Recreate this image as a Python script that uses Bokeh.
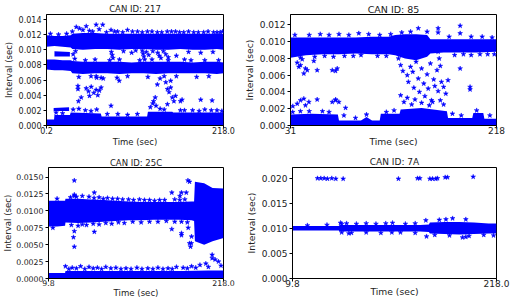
from bokeh.plotting import figure
from bokeh.layouts import column, row
from bokeh.models import FixedTicker, PrintfTickFormatter
from bokeh.embed import file_html
from bokeh.resources import INLINE

BLUE = "#0000ff"
TXT = "#222222"

# ================= CAN ID: 217 =================
id217_title = "CAN ID: 217"
id217_xticks = [0.2, 218.0]
id217_yticks = [0.000, 0.002, 0.004, 0.006, 0.008, 0.010, 0.012, 0.014]
id217_band_t = [0.2, 10, 20, 30, 32, 45, 60, 75, 90, 105, 120, 135, 150, 165, 180, 195, 210, 218]
id217_top_hi = [0.0119, 0.0118, 0.0118, 0.0119, 0.0121, 0.0122, 0.0122, 0.0121, 0.0121, 0.0121, 0.0121, 0.0121, 0.0121, 0.0121, 0.0121, 0.0121, 0.0121, 0.0121]
id217_top_lo = [0.0104, 0.0105, 0.0104, 0.0103, 0.0101, 0.0100, 0.0101, 0.0101, 0.0100, 0.0101, 0.0101, 0.0100, 0.0100, 0.0101, 0.0100, 0.0100, 0.0101, 0.0100]
id217_mid_hi = [0.0087, 0.0087, 0.0086, 0.0086, 0.0085, 0.0084, 0.0084, 0.0084, 0.0084, 0.0083, 0.0084, 0.0084, 0.0084, 0.0084, 0.0083, 0.0084, 0.0084, 0.0083]
id217_mid_lo = [0.0074, 0.0073, 0.0073, 0.0072, 0.0069, 0.0068, 0.0069, 0.0069, 0.0068, 0.0069, 0.0069, 0.0068, 0.0069, 0.0069, 0.0069, 0.0069, 0.0068, 0.0069]
id217_low_t = [0.2, 9.5, 10, 29, 30, 67, 68, 124, 125, 155, 156, 218]
id217_low_hi = [0.0008, 0.0008, 0.0014, 0.0014, 0.0017, 0.0016, 0.0012, 0.0012, 0.0018, 0.0018, 0.0017, 0.0017]
id217_low_lo = [0, 0, 0, 0, 0, 0, 0, 0, 0, 0, 0, 0]
id217_c2_t = [9, 28]
id217_c2_lo = [0.0019, 0.0019]
id217_c2_hi = [0.0023, 0.0024]
id217_c9_t = [10, 29]
id217_c9_lo = [0.0091, 0.0091]
id217_c9_hi = [0.0098, 0.0097]
id217_pts_t = [
    36.8, 40.9, 45, 49.1, 53, 61.3, 65, 69.4, 79.6, 87.7, 99.9, 112.2, 124.4, 136.6, 148.8, 159.0, 169.1, 181.4, 193.6, 205.8, 213.9, 32, 5, 15, 25,
    57, 74, 84, 94, 106, 118, 130, 142, 154, 164, 175, 187, 199, 210, 217,
    80, 81, 82, 118, 119, 120, 121, 123, 126, 131, 137, 139, 141, 144, 147, 150, 95, 105, 160, 175, 190, 205, 33, 36, 110,
    40, 55, 62, 70, 87, 100, 125, 140, 160, 185, 200, 35, 60, 90, 130, 170, 48, 78, 115, 150, 178, 195, 212,
    38.9, 38.9, 39.5, 42.9, 49.1, 51.9, 55.2, 58.4, 61.3, 63.3, 65.3, 67.4, 53.1, 61.3, 67.4, 79.6, 89.7, 132, 134, 136.6, 145, 147, 149, 151, 153, 155, 157, 159, 149, 153, 165, 167, 190, 204,
    12, 20, 33, 40, 48, 55, 62, 75, 88, 100, 112, 128, 131, 135, 140, 145, 165, 180, 195, 210, 170, 188, 203, 216]
id217_pts_v = [
    0.0130, 0.0128, 0.0126, 0.0131, 0.0125, 0.0133, 0.0127, 0.0133, 0.0126, 0.0124, 0.0126, 0.0124, 0.0124, 0.0123, 0.0124, 0.0124, 0.0123, 0.0123, 0.0123, 0.0123, 0.0123, 0.0124, 0.0121, 0.0120, 0.0121,
    0.0124, 0.0123, 0.0124, 0.0123, 0.0124, 0.0123, 0.0124, 0.0123, 0.0124, 0.0123, 0.0124, 0.0123, 0.0124, 0.0123, 0.0124,
    0.0097, 0.0093, 0.0089, 0.0099, 0.0095, 0.0091, 0.0087, 0.0097, 0.0093, 0.0098, 0.0096, 0.0092, 0.0089, 0.0098, 0.0094, 0.0090, 0.0098, 0.0096, 0.0092, 0.0097, 0.0096, 0.0097, 0.0094, 0.0098, 0.0099,
    0.0064, 0.0065, 0.0063, 0.0062, 0.0063, 0.0065, 0.0064, 0.0062, 0.0065, 0.0064, 0.0065, 0.0088, 0.0087, 0.0087, 0.0087, 0.0087, 0.0086, 0.0086, 0.0086, 0.0086, 0.0086, 0.0086, 0.0086,
    0.0052, 0.0048, 0.0032, 0.0037, 0.0049, 0.0045, 0.0051, 0.0043, 0.0047, 0.0040, 0.0046, 0.0050, 0.0039, 0.0065, 0.0063, 0.0026, 0.0059, 0.0032, 0.0037, 0.0054, 0.0065, 0.0057, 0.0048, 0.0044, 0.0050, 0.0037, 0.0032, 0.0039, 0.0028, 0.0059, 0.0032, 0.0034, 0.0034, 0.0033,
    0.0017, 0.0016, 0.0021, 0.0022, 0.0020, 0.0019, 0.0021, 0.0015, 0.0015, 0.0014, 0.0015, 0.0024, 0.0029, 0.0026, 0.0022, 0.0021, 0.0020, 0.0020, 0.0021, 0.0020, 0.0020, 0.0019, 0.0020, 0.0019]

# ================= CAN ID: 85 =================
id85_title = "CAN ID: 85"
id85_xticks = [31, 218]
id85_yticks = [0.000, 0.002, 0.004, 0.006, 0.008, 0.010, 0.012]
id85_top_t = [31, 45, 60, 75, 90, 105, 120, 126, 135, 145, 155, 158, 170, 185, 200, 218]
id85_top_hi = [0.0105, 0.0105, 0.0105, 0.0105, 0.0105, 0.0106, 0.0106, 0.0108, 0.0109, 0.0109, 0.0108, 0.0103, 0.0103, 0.0103, 0.0103, 0.0103]
id85_top_lo = [0.0081, 0.0084, 0.0085, 0.0085, 0.0086, 0.0085, 0.0085, 0.0084, 0.0080, 0.0078, 0.0082, 0.0086, 0.0087, 0.0087, 0.0087, 0.0088]
id85_low_t = [31, 50, 74, 75, 95, 100, 105, 112, 113, 130, 131, 150, 173, 174, 196, 197, 206, 207, 218]
id85_low_hi = [0.0013, 0.0014, 0.0013, 0.0006, 0.0006, 0.0010, 0.0006, 0.0006, 0.0014, 0.0014, 0.0019, 0.0021, 0.0017, 0.0009, 0.0009, 0.0015, 0.0015, 0.0008, 0.0008]
id85_low_lo = [0] * 19
id85_pts_t = [
    37.1, 38.6, 40.1, 44.6, 46.2, 41.6, 52.2, 55.2, 68.9, 71.9, 73.4, 43.1,
    33.1, 37.1, 40.1, 43.1, 44.6, 47.7, 55.2, 68.9, 71.9, 74.9, 79.5, 81, 72,
    129, 131, 133, 135, 137, 138, 140, 142, 143, 145, 147, 148, 150, 152, 153, 155, 156, 158, 159, 161, 162, 164, 165, 165, 165, 166, 167, 168, 170, 172, 174,
    131, 134, 137, 141, 144, 150, 157, 160, 167, 170, 185, 194, 194,
    147, 165, 165, 185, 185, 35, 48, 58, 66, 75, 84, 93, 102, 112, 122, 132, 140, 155, 175, 195, 205, 214,
    40, 53, 62, 70, 80, 88, 95, 110, 118, 180, 188, 195, 203, 210, 216,
    178, 186, 200, 212, 125, 118, 60, 40, 90, 33, 48, 66, 100]
id85_pts_v = [
    0.0075, 0.0070, 0.0072, 0.0068, 0.0066, 0.0079, 0.0077, 0.0066, 0.0066, 0.0065, 0.0068, 0.0062,
    0.0023, 0.0026, 0.0030, 0.0032, 0.0024, 0.0028, 0.0031, 0.0028, 0.0030, 0.0028, 0.0012, 0.0021, 0.0031,
    0.0080, 0.0072, 0.0065, 0.0086, 0.0060, 0.0052, 0.0070, 0.0064, 0.0045, 0.0076, 0.0056, 0.0040, 0.0068, 0.0050, 0.0035, 0.0061, 0.0044, 0.0074, 0.0030, 0.0055, 0.0047, 0.0066, 0.0041, 0.0095, 0.0088, 0.0080, 0.0071, 0.0052, 0.0046, 0.0038, 0.0054,
    0.0036, 0.0028, 0.0033, 0.0025, 0.0031, 0.0027, 0.0024, 0.0028, 0.0030, 0.0025, 0.0068, 0.0046, 0.0043,
    0.0116, 0.0116, 0.0111, 0.0119, 0.0110, 0.0108, 0.0108, 0.0109, 0.0108, 0.0109, 0.0108, 0.0110, 0.0109, 0.0108, 0.0109, 0.0111, 0.0112, 0.0112, 0.0106, 0.0106, 0.0106, 0.0105,
    0.0081, 0.0082, 0.0083, 0.0082, 0.0083, 0.0083, 0.0084, 0.0083, 0.0083, 0.0084, 0.0085, 0.0084, 0.0085, 0.0085, 0.0085,
    0.0014, 0.0012, 0.0018, 0.0012, 0.0018, 0.0016, 0.0017, 0.0017, 0.0009, 0.0016, 0.0017, 0.0016, 0.0013]

# ================= CAN ID: 25C =================
id25c_title = "CAN ID: 25C"
id25c_xticks = [9.8, 218.0]
id25c_yticks = [0.0000, 0.0025, 0.0050, 0.0075, 0.0100, 0.0125, 0.0150]
id25c_top_t = [9.8, 20, 29.5, 30, 45, 60, 75, 90, 105, 120, 135, 150, 165, 180, 183, 184, 195, 205, 218]
id25c_top_hi = [0.0115, 0.0115, 0.0115, 0.0118, 0.0118, 0.0117, 0.0116, 0.0115, 0.0114, 0.0113, 0.0113, 0.0113, 0.0113, 0.0114, 0.0114, 0.0143, 0.0141, 0.0134, 0.0133]
id25c_top_lo = [0.0077, 0.0077, 0.0078, 0.0083, 0.0082, 0.0083, 0.0084, 0.0085, 0.0086, 0.0086, 0.0087, 0.0087, 0.0087, 0.0086, 0.0085, 0.0055, 0.0050, 0.0055, 0.0060]
id25c_low_t = [9.8, 29.5, 30, 100, 170, 200, 218]
id25c_low_hi = [0.0008, 0.0008, 0.0011, 0.0011, 0.0011, 0.0012, 0.0012]
id25c_low_lo = [0] * 7
id25c_pts_t = [
    40.5, 40.5, 40.5, 40.5, 40.5, 39.5, 64.3, 64.3, 156.5, 156.5, 166.1, 168, 168, 168, 173.7, 175.7, 177.6, 177.6, 178.8, 179.7, 180, 176,
    20, 36, 43, 50, 58, 70, 80, 92, 105, 118, 130, 142, 160, 172, 64, 75, 86, 98, 111, 124, 136, 148, 166,
    15, 37, 45, 55, 70, 85, 100, 120, 140, 160, 175, 50, 63, 78, 93, 110, 130, 150, 168,
    30, 38, 48, 58, 68, 78, 90, 102, 115, 128, 140, 152, 162, 170, 180, 190, 197, 204.5, 204.5, 208, 212, 200, 215,
    34, 43, 53, 63, 73, 84, 96, 108, 121, 134, 146, 157, 175, 185]
id25c_pts_v = [
    0.0145, 0.0124, 0.0122, 0.0070, 0.0047, 0.0061, 0.0127, 0.0069, 0.0127, 0.0073, 0.0122, 0.0127, 0.0067, 0.0064, 0.0127, 0.0145, 0.0143, 0.0052, 0.0047, 0.0052, 0.0062, 0.0075,
    0.0118, 0.0120, 0.0121, 0.0122, 0.0121, 0.0120, 0.0119, 0.0118, 0.0117, 0.0117, 0.0116, 0.0116, 0.0117, 0.0117, 0.0119, 0.0118, 0.0118, 0.0117, 0.0116, 0.0116, 0.0115, 0.0116, 0.0116,
    0.0075, 0.0079, 0.0078, 0.0079, 0.0080, 0.0081, 0.0082, 0.0083, 0.0084, 0.0084, 0.0083, 0.0080, 0.0081, 0.0082, 0.0083, 0.0084, 0.0084, 0.0085, 0.0084,
    0.0018, 0.0016, 0.0018, 0.0017, 0.0016, 0.0017, 0.0016, 0.0015, 0.0016, 0.0015, 0.0016, 0.0015, 0.0017, 0.0016, 0.0018, 0.0020, 0.0022, 0.0035, 0.0030, 0.0028, 0.0025, 0.0017, 0.0019,
    0.0014, 0.0015, 0.0014, 0.0015, 0.0014, 0.0015, 0.0014, 0.0014, 0.0014, 0.0014, 0.0014, 0.0014, 0.0015, 0.0016]

# ================= CAN ID: 7A =================
id7a_title = "CAN ID: 7A"
id7a_xticks = [9.8, 218.0]
id7a_yticks = [0.000, 0.005, 0.010, 0.015, 0.020]
id7a_band_t = [9.8, 30, 57, 58, 80, 100, 120, 140, 149, 150, 165, 180, 195, 210, 218]
id7a_band_hi = [0.0105, 0.0105, 0.0105, 0.0107, 0.0107, 0.0107, 0.0107, 0.0107, 0.0108, 0.0112, 0.0113, 0.0113, 0.0112, 0.0110, 0.0110]
id7a_band_lo = [0.0096, 0.0096, 0.0096, 0.0094, 0.0094, 0.0094, 0.0094, 0.0094, 0.0093, 0.0090, 0.0089, 0.0088, 0.0089, 0.0090, 0.0090]
id7a_pts_t = [
    35.3, 38.7, 42.1, 45.5, 49.9, 54, 61.5, 117.9, 137.4, 139.8, 150, 152.7, 156.1, 157.8, 165.6, 168, 194.2,
    145.9, 146.6, 111.2, 111.9, 58.8, 67.3, 183.3, 186.7, 159.6, 166.4, 173.2, 186.7,
    60, 65, 75, 85, 95, 105, 125, 135, 45, 25,
    60, 70, 85, 100, 120, 135, 155, 170, 190, 205, 215]
id7a_pts_v = [
    0.0200, 0.0200, 0.0200, 0.0199, 0.0200, 0.0199, 0.0199, 0.0199, 0.0200, 0.0200, 0.0199, 0.0199, 0.0199, 0.0200, 0.0202, 0.0202, 0.0203,
    0.0116, 0.0084, 0.0092, 0.0111, 0.0111, 0.0090, 0.0082, 0.0083, 0.0117, 0.0118, 0.0120, 0.0118,
    0.0109, 0.0110, 0.0109, 0.0110, 0.0109, 0.0110, 0.0109, 0.0110, 0.0107, 0.0106,
    0.0092, 0.0091, 0.0092, 0.0091, 0.0092, 0.0091, 0.0087, 0.0086, 0.0085, 0.0087, 0.0086]


def panel(title, xr, yr, xticks, xfmt, yticks, yfmt, bands, pts_t, pts_v, geom, fonts, stand):
    W, H, bl, br, bt, bb = geom
    tick_fs, lab_fs, title_fs = fonts
    title_so, xlab_so, ylab_so = stand
    p = figure(width=W, height=H, x_range=xr, y_range=yr, toolbar_location=None,
               output_backend="svg", min_border_left=bl, min_border_right=br,
               min_border_top=bt, min_border_bottom=bb, background_fill_color="white",
               border_fill_color="white", title=title)
    p.title.align = "center"
    p.title.text_font = "DejaVu Sans"
    p.title.text_font_style = "normal"
    p.title.text_font_size = title_fs
    p.title.text_color = TXT
    p.title.standoff = title_so
    p.title.offset = 0
    p.outline_line_color = "black"
    p.outline_line_width = 1
    p.grid.visible = False
    for (t, lo, hi) in bands:
        p.varea(x=t, y1=lo, y2=hi, fill_color=BLUE)
    p.scatter(pts_t, pts_v, marker="star", size=5, fill_color=BLUE, line_color=BLUE, line_width=0.5)

    p.xaxis.ticker = FixedTicker(ticks=xticks)
    p.xaxis.formatter = PrintfTickFormatter(format=xfmt)
    p.yaxis.ticker = FixedTicker(ticks=yticks)
    p.yaxis.formatter = PrintfTickFormatter(format=yfmt)
    p.xaxis.axis_label = "Time (sec)"
    p.yaxis.axis_label = "Interval (sec)"
    for ax in (p.xaxis, p.yaxis):
        ax.axis_line_color = "black"
        ax.major_tick_line_color = "black"
        ax.major_tick_out = 3
        ax.major_tick_in = 0
        ax.minor_tick_out = 0
        ax.minor_tick_in = 0
        ax.major_label_text_font = "DejaVu Sans"
        ax.major_label_text_font_size = tick_fs
        ax.major_label_text_color = TXT
        ax.axis_label_text_font = "DejaVu Sans"
        ax.axis_label_text_font_style = "normal"
        ax.axis_label_text_font_size = lab_fs
        ax.axis_label_text_color = TXT
    p.xaxis.major_label_standoff = -2
    p.yaxis.major_label_standoff = 2
    p.xaxis.axis_label_standoff = xlab_so
    p.yaxis.axis_label_standoff = ylab_so
    return p


p1 = panel(id217_title, (0.2, 218.0), (0, 0.01465), id217_xticks, "%.1f", id217_yticks, "%.3f",
           [(id217_band_t, id217_top_lo, id217_top_hi), (id217_band_t, id217_mid_lo, id217_mid_hi),
            (id217_low_t, id217_low_lo, id217_low_hi), (id217_c2_t, id217_c2_lo, id217_c2_hi),
            (id217_c9_t, id217_c9_lo, id217_c9_hi)],
           id217_pts_t, id217_pts_v, (240, 150, 45, 17, 12, 25),
           ("8px", "8.5px", "8.5px"), (2, 0, 2))

p2 = panel(id85_title, (31, 218), (0, 0.01325), id85_xticks, "%d", id85_yticks, "%.3f",
           [(id85_top_t, id85_top_lo, id85_top_hi), (id85_low_t, id85_low_lo, id85_low_hi)],
           id85_pts_t, id85_pts_v, (271, 150, 50, 15, 11, 22),
           ("9px", "9.2px", "9.5px"), (0, -1, 2))

p3 = panel(id25c_title, (9.8, 218.0), (0, 0.01642), id25c_xticks, "%.1f", id25c_yticks, "%.4f",
           [(id25c_top_t, id25c_top_lo, id25c_top_hi), (id25c_low_t, id25c_low_lo, id25c_low_hi)],
           id25c_pts_t, id25c_pts_v, (240, 151, 43, 17, 12, 23),
           ("7.8px", "8.6px", "8.5px"), (0, -1, 0))

p4 = panel(id7a_title, (9.8, 218.0), (0, 0.02216), id7a_xticks, "%.1f", id7a_yticks, "%.3f",
           [(id7a_band_t, id7a_band_lo, id7a_band_hi)],
           id7a_pts_t, id7a_pts_v, (271, 151, 52, 15, 17, 21),
           ("9px", "9.2px", "9px"), (1, -4, 2))

layout = column(row(p1, p2), row(p3, p4))
open("out.html", "w").write(file_html(layout, INLINE))
